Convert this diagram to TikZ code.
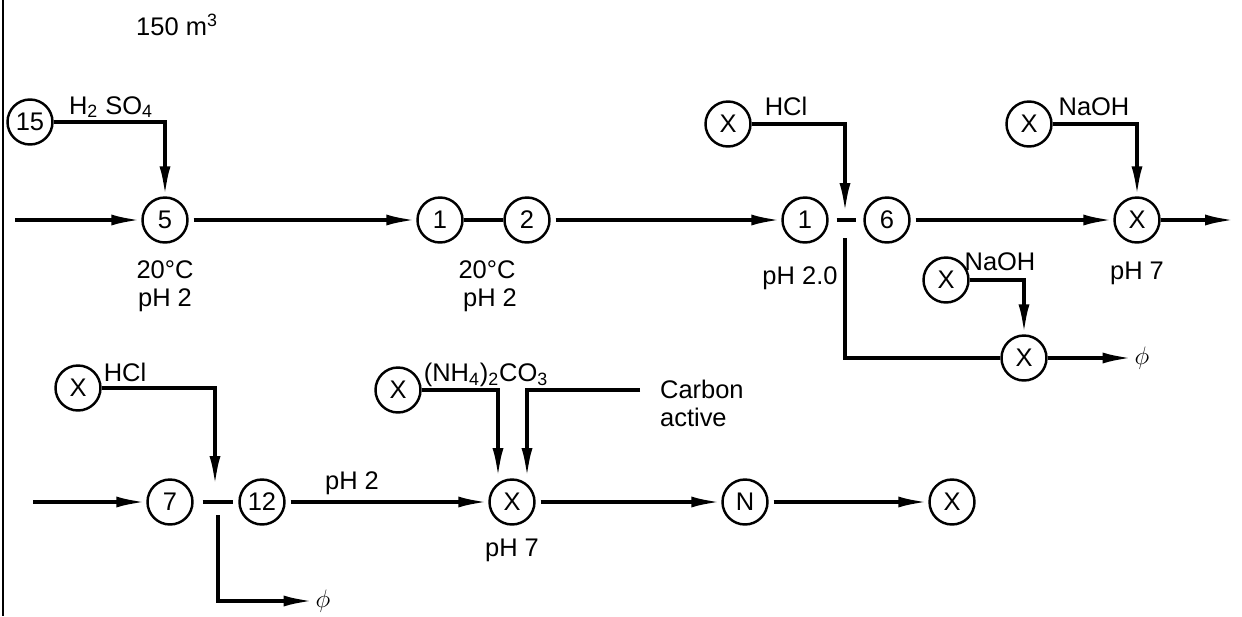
\documentclass[tikz,border=0pt]{standalone}
\usepackage{fontspec}
\setmainfont{Liberation Sans}
\usetikzlibrary{arrows.meta, calc}

\tikzset{
  unit/.style={circle, draw, line width=1.4pt, minimum size=0.9cm, inner sep=0pt, font=\fontsize{14.5}{16}\selectfont},
  lbl/.style={inner sep=1pt, font=\fontsize{14.5}{16}\selectfont},
  pipe/.style={line width=2.1pt},
  flow/.style={pipe, -{Latex[length=0.6cm,width=0.22cm]}},
}

\begin{document}
\begin{tikzpicture}[x=0.02cm, y=-0.02cm]
    \useasboundingbox (0,0) rectangle (1242,616);

    % Sheet edge
    \coordinate (edgetop) at (3,0);
    \coordinate (edgebot) at (3,616);
    \draw[line width=1.4pt] (edgetop) -- (edgebot);

    % Upper line: units
    \node[unit] (c15) at (30,122) {15};
    \node[unit] (c5) at (165,220) {5};
    \node[unit] (c1a) at (440,220) {1};
    \node[unit] (c2) at (527,220) {2};
    \node[unit] (c1b) at (805,220) {1};
    \node[unit] (c6) at (887,220) {6};
    \node[unit] (xn) at (1137,220) {X};
    \node[unit] (xhcl) at (728,124) {X};
    \node[unit] (xnaoh) at (1029,124) {X};
    \node[unit] (xnaoh2) at (946,280) {X};
    \node[unit] (xlow) at (1024,358) {X};

    % Upper line: labels
    \node[lbl] (vol) at (177,25) {150 m\textsuperscript{3}};
    \node[lbl] (h2so4) at (111,107) {H\textsubscript{2} SO\textsubscript{4}};
    \node[lbl] (t5) at (165,270) {20°C};
    \node[lbl] (p5) at (165,300) {pH 2};
    \node[lbl] (t2) at (487,270) {20°C};
    \node[lbl] (p2) at (490,300) {pH 2};
    \node[lbl] (hcl1) at (786,106) {HCl};
    \node[lbl] (ph20) at (800,278) {pH 2.0};
    \node[lbl] (naoh1) at (1094,107) {NaOH};
    \node[lbl] (naoh2) at (1000,262) {NaOH};
    \node[lbl] (ph7a) at (1137,273) {pH 7};
    \node[lbl] (phi1) at (1142,358) {$\phi$};

    % Upper line: flows
    \coordinate (in1) at (15,220);
    \coordinate (j1) at (845,213);
    \coordinate (j1b) at (845,238);
    \coordinate (out1) at (1235,220);
    \draw[flow] (in1) -- (c5);
    \draw[flow] (c15) -| (c5);
    \draw[flow, shorten <=0.1cm] (c5) -- (c1a);
    \draw[pipe] (c1a) -- (c2);
    \draw[flow, shorten <=0.1cm] (c2) -- (c1b);
    \draw[flow] (xhcl) -| (j1);
    \draw[pipe, shorten <=0.16cm, shorten >=0.14cm] (c1b) -- (c6);
    \draw[pipe] (j1b) |- (xlow);
    \draw[flow, shorten <=0.1cm] (c6) -- (xn);
    \draw[flow] (xn) -- (out1);
    \draw[flow] (xnaoh) -| (xn);
    \draw[flow] (xnaoh2) -| (xlow);
    \draw[flow] (xlow) -- (phi1);

    % Lower line: units
    \node[unit] (c7) at (170,502) {7};
    \node[unit] (c12) at (262,502) {12};
    \node[unit] (xhcl2) at (78,388) {X};
    \node[unit] (xam) at (398,390) {X};
    \node[unit] (xmix) at (512,502) {X};
    \node[unit] (cn) at (745,502) {N};
    \node[unit] (xend) at (952,502) {X};

    % Lower line: labels
    \node[lbl] (hcl2) at (125,372) {HCl};
    \node[lbl] (ph2b) at (352,483) {pH 2};
    \node[lbl] (amm) at (486,375) {(NH\textsubscript{4})\textsubscript{2}CO\textsubscript{3}};
    \node[lbl, anchor=west, align=left] (carb) at (658,403) {Carbon\\active};
    \node[lbl] (ph7b) at (512,550) {pH 7};
    \node[lbl] (phi2) at (323,601) {$\phi$};

    % Lower line: flows
    \coordinate (in2) at (33,502);
    \coordinate (j2) at (215,486);
    \coordinate (j2b) at (218,515);
    \coordinate (m1) at (498,478);
    \coordinate (m2) at (527,478);
    \coordinate (cstart) at (640,390);
    \draw[flow] (in2) -- (c7);
    \draw[flow] (xhcl2) -| (j2);
    \draw[pipe, shorten <=0.18cm, shorten >=0.1cm] (c7) -- (c12);
    \draw[flow] (j2b) |- (phi2);
    \draw[flow, shorten <=0.1cm] (c12) -- (xmix);
    \draw[flow] (xam) -| (m1);
    \draw[flow] (cstart) -| (m2);
    \draw[flow, shorten <=0.1cm] (xmix) -- (cn);
    \draw[flow, shorten <=0.1cm] (cn) -- (xend);
\end{tikzpicture}
\end{document}
